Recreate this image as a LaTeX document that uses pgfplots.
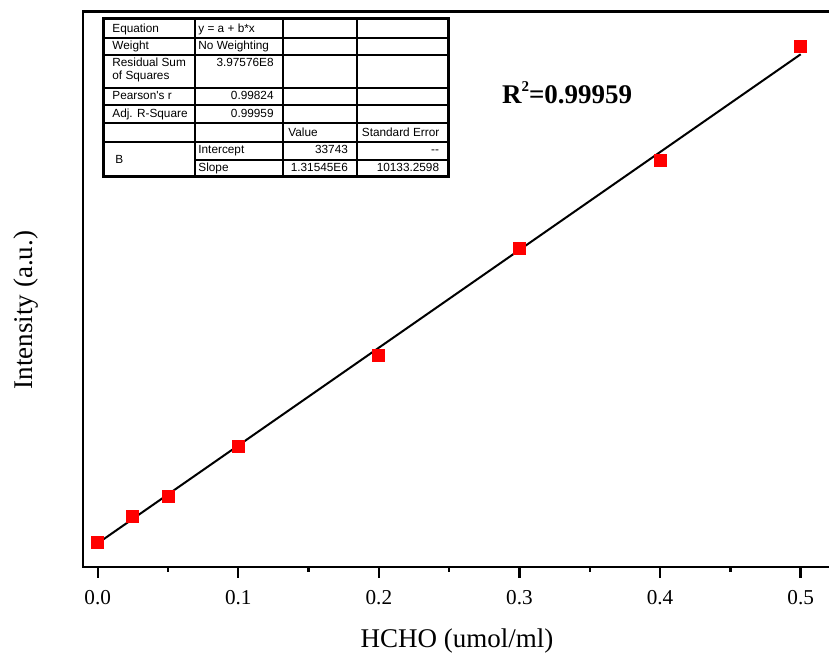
\documentclass[border=0pt]{standalone}
\usepackage{pgfplots}
\pgfplotsset{compat=1.18}
\usepackage{fontspec}
\setmainfont{Liberation Serif}
\newfontfamily\arial{Liberation Sans}
\definecolor{mkred}{RGB}{255,0,0}
\begin{document}
\begin{tikzpicture}
\useasboundingbox (-41.35pt,-45pt) rectangle (373.15pt,283.5pt);
\clip (-41.35pt,-45pt) rectangle (373.15pt,283.5pt);
\begin{axis}[
  at={(0,0)}, anchor=south west,
  scale only axis,
  width=374.45pt, height=277.75pt,
  xmin=-0.01067, xmax=0.522,
  ymin=1866, ymax=749000,
  xtick={0,0.1,0.2,0.3,0.4,0.5},
  minor x tick num=1,
  ytick=\empty,
  xtick pos=bottom,
  tick align=outside,
  major tick length=5.3pt,
  minor tick length=2.4pt,
  every tick/.style={black, line width=1.2pt},
  axis line style={line width=1.1pt},
  /pgf/number format/assume math mode=true,
  xticklabel style={font=\fontsize{10.6pt}{12pt}\selectfont, anchor=base, yshift=-13.5pt},
  xticklabel={\pgfmathprintnumber[fixed,fixed zerofill,precision=1]{\tick}},
  xlabel={HCHO (umol/ml)},
  ylabel={Intensity (a.u.)},
  label style={font=\fontsize{13.5pt}{15pt}\selectfont},
  xlabel style={at={(axis description cs:0.4998,-0.1458)}, anchor=base},
  ylabel style={at={(axis description cs:-0.06636,0.4627)}, anchor=base},
  clip=false,
]
\addplot[black, line width=1pt] coordinates {(0,33743) (0.5,691468)};
\addplot[only marks, mark=square*, mark size=3pt, mark options={fill=mkred, draw=mkred}] coordinates {
  (0,34550) (0.025,70460) (0.05,97360) (0.1,163670)
  (0.2,286060) (0.3,430520) (0.4,548340) (0.5,702620)
};
\end{axis}
\begin{scope}[shift={(-41.35pt,283.5pt)}, x=0.5pt, y=-0.5pt]
  \node[anchor=base west, inner sep=0pt, font=\bfseries\fontsize{13.5pt}{15pt}\selectfont] at (501.7,103.3) {R\raisebox{0.42em}{\fontsize{7.5pt}{8pt}\selectfont 2}=0.99959};
  % table
  \fill[white] (103,18.3) rectangle (448.3,176.7);
  \begin{scope}[line width=1.2pt]
    \foreach \r in {38.3,55,88.3,105,123.3,142.3} \draw (103,\r) -- (448.3,\r);
    \draw (194.7,160) -- (448.3,160);
    \foreach \c in {194.7,282.7,356.7} \draw (\c,18.3) -- (\c,176.7);
  \end{scope}
  \draw[line width=1.5pt] (103,18.3) rectangle (448.3,176.7);
  \begin{scope}[every node/.style={inner sep=0pt, font=\arial\fontsize{5.9pt}{7pt}\selectfont}]
    \node[anchor=base west] at (112,33) {Equation};
    \node[anchor=base west] at (198,33) {y = a + b*x};
    \node[anchor=base west] at (112,49.5) {Weight};
    \node[anchor=base west] at (198,49.5) {No Weighting};
    \node[anchor=base west] at (112,66.7) {Residual Sum};
    \node[anchor=base west] at (112,80) {of Squares};
    \node[anchor=base east] at (274,66.7) {3.97576E8};
    \node[anchor=base west] at (112,100) {Pearson's r};
    \node[anchor=base east] at (274,100) {0.99824};
    \node[anchor=base west] at (112,117.5) {Adj. R-Square};
    \node[anchor=base east] at (274,117.5) {0.99959};
    \node[anchor=base west] at (288,136.5) {Value};
    \node[anchor=base west] at (361.5,136.5) {Standard Error};
    \node[anchor=base west] at (115,163.3) {B};
    \node[anchor=base west] at (198,154) {Intercept};
    \node[anchor=base east] at (348.3,154) {33743};
    \node[anchor=base east] at (439.5,154) {-{}-};
    \node[anchor=base west] at (198,171.5) {Slope};
    \node[anchor=base east] at (348.3,171.5) {1.31545E6};
    \node[anchor=base east] at (439.5,171.5) {10133.2598};
  \end{scope}
\end{scope}
\end{tikzpicture}
\end{document}
